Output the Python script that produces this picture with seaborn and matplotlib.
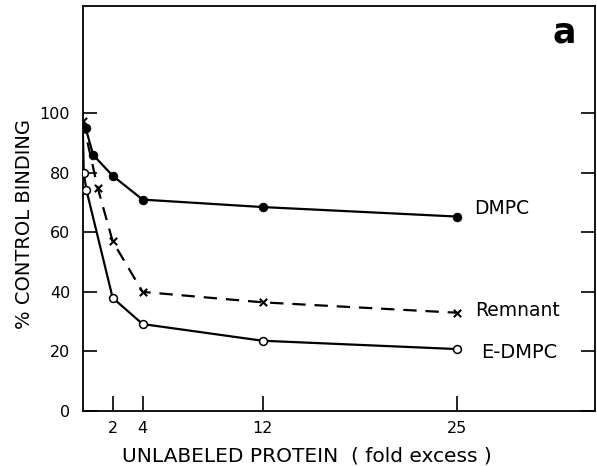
import matplotlib
matplotlib.use("Agg")
import matplotlib.pyplot as plt
import seaborn as sns
import pandas as pd

# Data
dmpc_x = [0, 0.2, 0.7, 2, 4, 12, 25]
dmpc_y = [97, 95, 86, 79, 71, 68.5, 65.3]
rem_x = [0, 1, 2, 4, 12, 25]
rem_y = [97.5, 75, 57, 40, 36.5, 33]
edmpc_x = [0, 0.07, 0.25, 2, 4, 12, 25]
edmpc_y = [97, 80, 74.2, 38, 29.2, 23.6, 20.8]

x_ticks = [2, 4, 12, 25]
y_ticks = [0, 20, 40, 60, 80, 100]
series_labels = ["DMPC", "Remnant", "E-DMPC"]

sns.set_style("ticks")
plt.rcParams['font.family'] = ['DejaVu Sans']
for k in ["text.color", "axes.labelcolor", "xtick.color", "ytick.color",
          "axes.edgecolor"]:
    plt.rcParams[k] = "black"

fig = plt.figure(figsize=(5.97, 4.66), dpi=100)
ax = fig.add_axes([0.1385, 0.118, 0.8585, 0.869])

df_d = pd.DataFrame({"x": dmpc_x, "y": dmpc_y})
df_r = pd.DataFrame({"x": rem_x, "y": rem_y})
df_e = pd.DataFrame({"x": edmpc_x, "y": edmpc_y})

# DMPC: solid line with filled circles
sns.lineplot(data=df_d, x="x", y="y", ax=ax, color="black", lw=1.6,
             estimator=None, sort=False)
sns.scatterplot(data=df_d.iloc[1:], x="x", y="y", ax=ax, color="black",
                s=40, marker="o", edgecolor="black", zorder=5)

# Remnant: dashed with x markers
sns.lineplot(data=df_r, x="x", y="y", ax=ax, color="black", lw=1.6,
             estimator=None, sort=False)
ax.lines[-1].set_dashes([6, 4])
sns.scatterplot(data=df_r, x="x", y="y", ax=ax, color="black",
                s=28, marker="x", linewidth=1.5, zorder=5)

# E-DMPC: solid with open circles
sns.lineplot(data=df_e, x="x", y="y", ax=ax, color="black", lw=1.6,
             estimator=None, sort=False)
sns.scatterplot(data=df_e.iloc[1:], x="x", y="y", ax=ax, color="white",
                s=32, marker="o", edgecolor="black", linewidth=1.1, zorder=5)

ax.set_xlim(0, 34.2)
ax.set_ylim(0, 136)
ax.set_xticks(x_ticks)
ax.set_xticklabels([str(t) for t in x_ticks])
ax.set_yticks(y_ticks)
ax.set_yticklabels([str(t) for t in y_ticks])

ax.tick_params(axis='x', direction='in', length=11, width=1.2, labelsize=11.5,
               pad=7)
ax.tick_params(axis='y', direction='in', length=10, width=1.2, labelsize=11.5,
               pad=9, right=True)
for s in ax.spines.values():
    s.set_visible(True)
    s.set_linewidth(1.3)

ax.set_xlabel("UNLABELED PROTEIN  ( fold excess )", fontsize=14.5)
ax.xaxis.set_label_coords(0.437, -0.088)
ax.xaxis.label.set_va("top")
ax.set_ylabel("% CONTROL BINDING", fontsize=14)
ax.yaxis.label.set_va("center")
ax.yaxis.set_label_coords(-0.1126, 0.462)

ax.text(26.1, 68.0, series_labels[0], fontsize=13.5, va="center", ha="left")
ax.text(26.2, 33.9, series_labels[1], fontsize=13.5, va="center", ha="left")
ax.text(26.6, 19.5, series_labels[2], fontsize=14, va="center", ha="left")
ax.text(32.15, 127, "a", fontsize=25, fontweight="bold", va="center", ha="center")

fig.savefig("out.png", dpi=100, facecolor="white")
